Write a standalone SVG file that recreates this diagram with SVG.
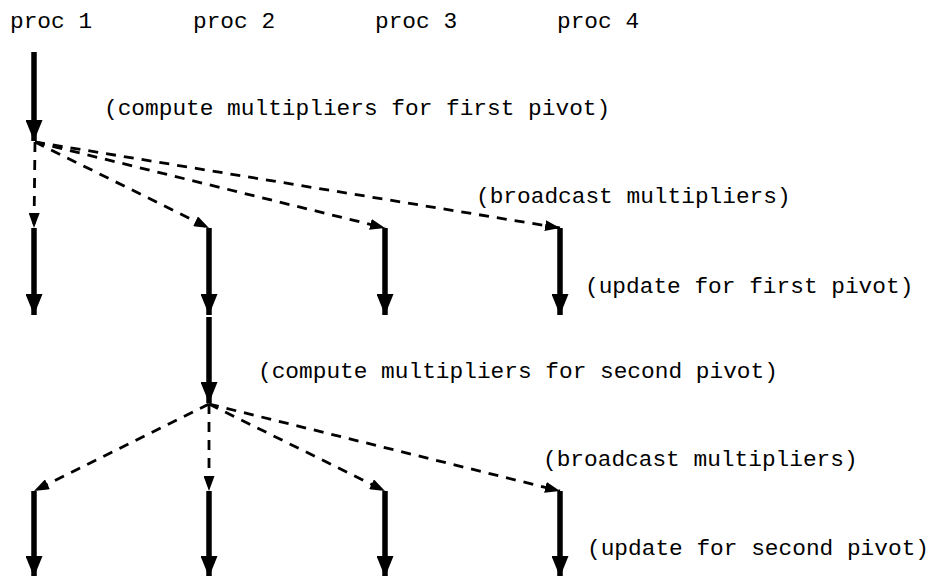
<svg xmlns="http://www.w3.org/2000/svg" width="929" height="576" viewBox="0 0 929 576">
  <style>
    text { font-family: "Liberation Mono", "Courier New", monospace; font-size: 22.8px; fill: #000; }
    .work { stroke: #000; stroke-width: 5.5; fill: none; marker-end: url(#bigHead); }
    .msg { stroke: #000; stroke-width: 2.8; fill: none; stroke-dasharray: 10 8; marker-end: url(#smallHead); }
  </style>
  <defs>
    <marker id="bigHead" markerUnits="userSpaceOnUse" viewBox="0 0 21 17" refX="21" refY="8.5" markerWidth="21" markerHeight="17" orient="auto">
      <path d="M0,0 L21,8.5 L0,17 Z" fill="#000"/>
    </marker>
    <marker id="smallHead" markerUnits="userSpaceOnUse" viewBox="0 0 15 11" refX="15" refY="5.5" markerWidth="15" markerHeight="11" orient="auto">
      <path d="M0,0 L15,5.5 L0,11 Z" fill="#000"/>
    </marker>
  </defs>

  <g id="headers">
    <text x="10" y="28">proc 1</text>
    <text x="193" y="28">proc 2</text>
    <text x="375" y="28">proc 3</text>
    <text x="557" y="28">proc 4</text>
  </g>

  <g id="labels">
    <text x="104" y="115">(compute multipliers for first pivot)</text>
    <text x="476" y="203">(broadcast multipliers)</text>
    <text x="585" y="293">(update for first pivot)</text>
    <text x="258" y="378">(compute multipliers for second pivot)</text>
    <text x="543" y="466">(broadcast multipliers)</text>
    <text x="587" y="555">(update for second pivot)</text>
  </g>

  <g id="connectors">
    <!-- first pivot: compute on proc 1 -->
    <line class="work" x1="34" y1="52" x2="34" y2="141"/>
    <!-- broadcast from proc 1 -->
    <line class="msg" x1="35" y1="142" x2="34" y2="228"/>
    <line class="msg" x1="35" y1="142" x2="209" y2="228"/>
    <line class="msg" x1="35" y1="142" x2="385" y2="228"/>
    <line class="msg" x1="35" y1="142" x2="560" y2="228"/>
    <!-- update for first pivot -->
    <line class="work" x1="34" y1="228" x2="34" y2="315"/>
    <line class="work" x1="209" y1="228" x2="209" y2="315"/>
    <line class="work" x1="385" y1="228" x2="385" y2="315"/>
    <line class="work" x1="560" y1="228" x2="560" y2="315"/>
    <!-- second pivot: compute on proc 2 -->
    <line class="work" x1="209" y1="317" x2="209" y2="403"/>
    <!-- broadcast from proc 2 -->
    <line class="msg" x1="209" y1="404" x2="34" y2="491"/>
    <line class="msg" x1="209" y1="404" x2="209" y2="491"/>
    <line class="msg" x1="209" y1="404" x2="385" y2="491"/>
    <line class="msg" x1="209" y1="404" x2="560" y2="491"/>
    <!-- update for second pivot -->
    <line class="work" x1="34" y1="491" x2="34" y2="577"/>
    <line class="work" x1="209" y1="491" x2="209" y2="577"/>
    <line class="work" x1="385" y1="491" x2="385" y2="577"/>
    <line class="work" x1="560" y1="491" x2="560" y2="577"/>
  </g>
</svg>
